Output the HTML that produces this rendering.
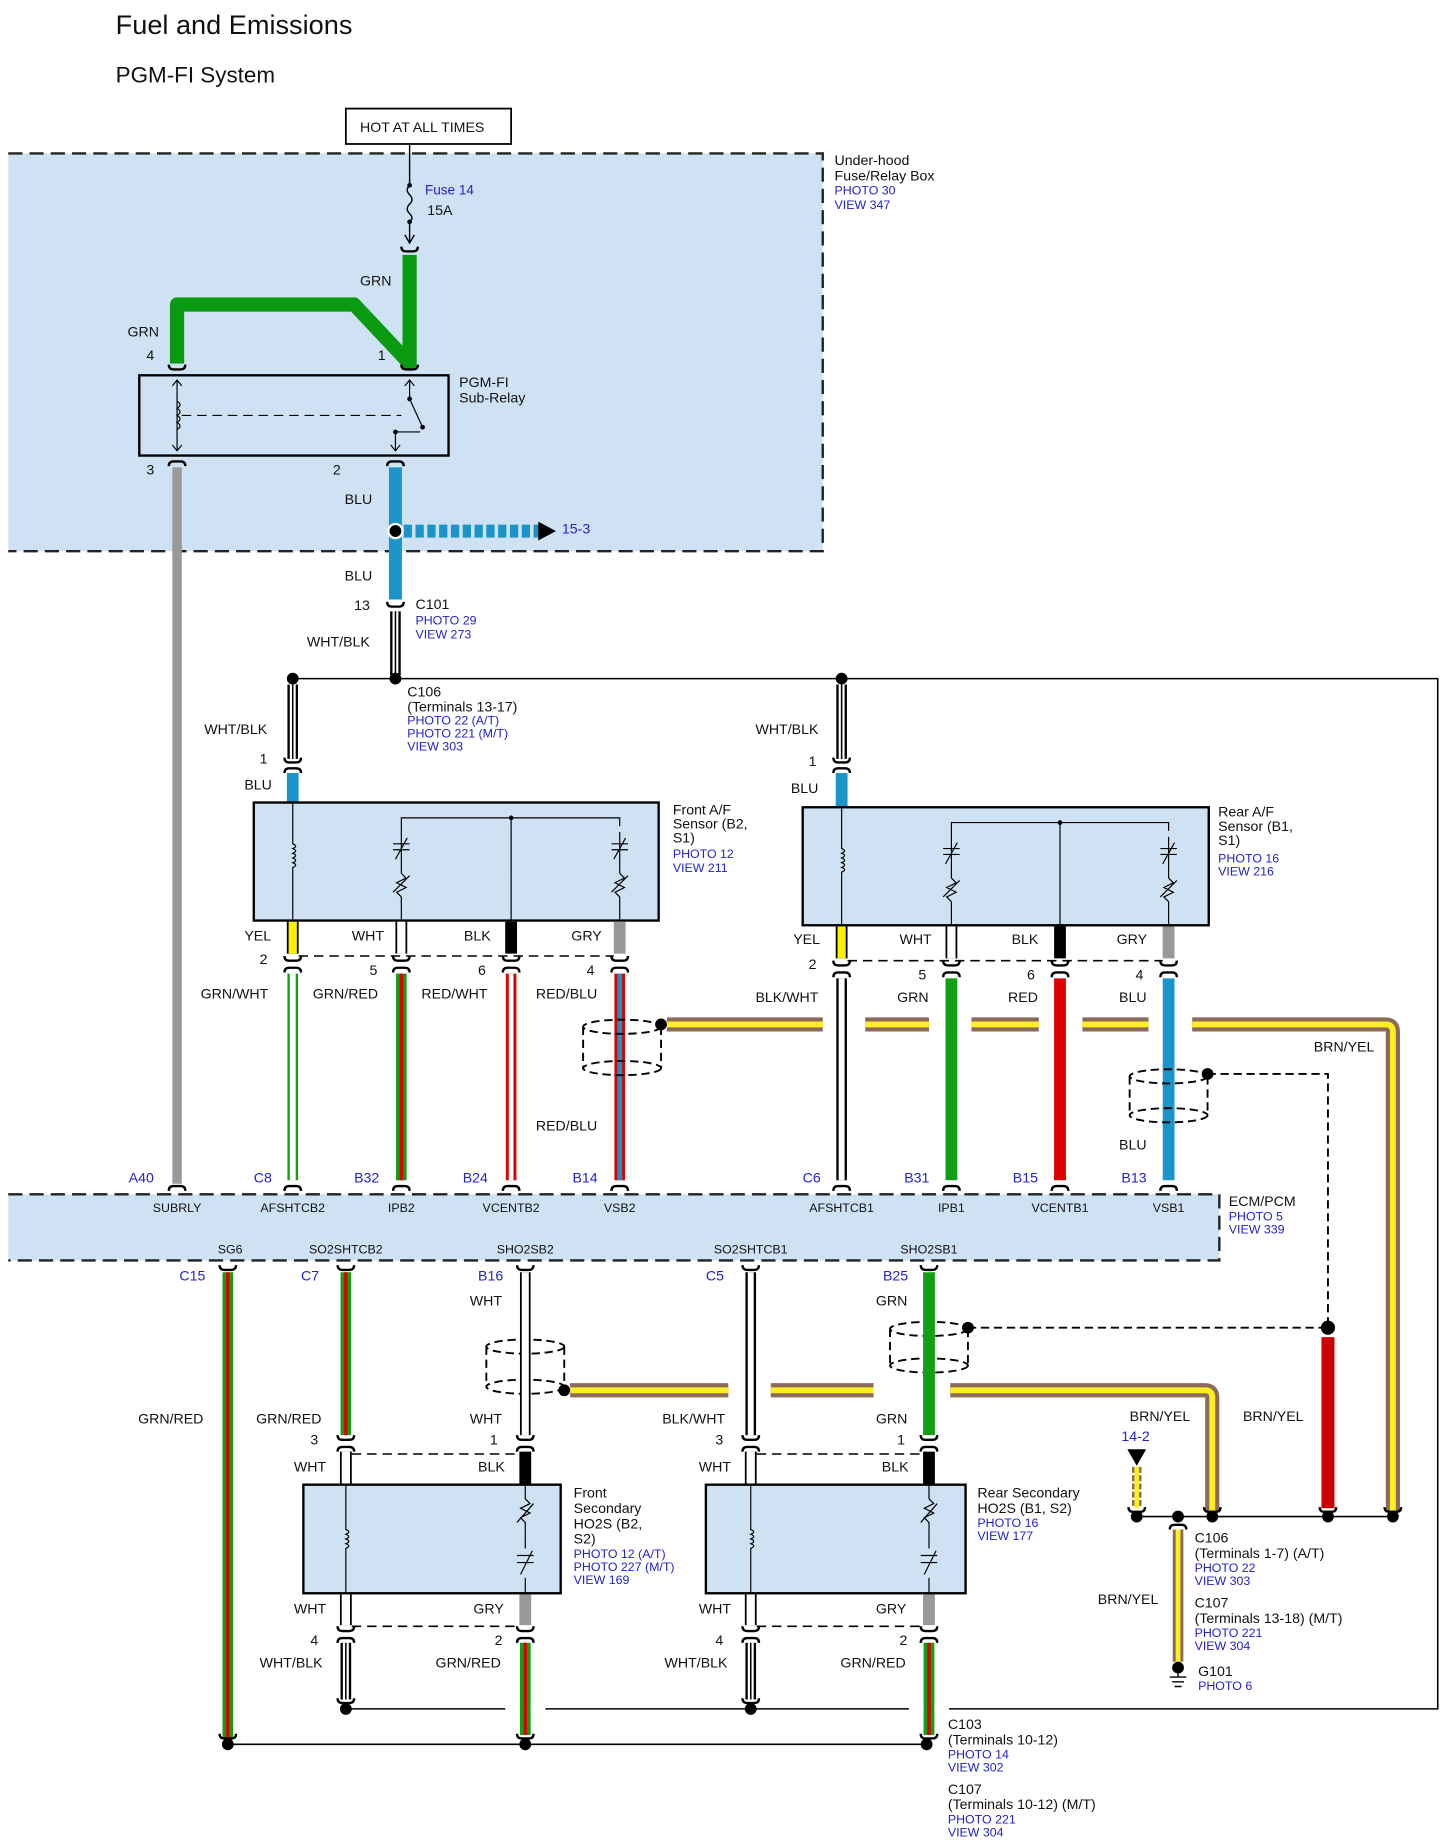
<!DOCTYPE html>
<html><head><meta charset="utf-8"><style>
html,body{margin:0;padding:0;background:#fff}
svg{display:block}
text{font-family:"Liberation Sans",Arial,sans-serif;font-size:12px;fill:#111}
.b{fill:#2222cc;font-size:10.5px}
.pn{fill:#2222cc;font-size:12px}
.s{font-size:10.5px}
</style></head><body>
<svg width="1446" height="1847" viewBox="0 0 1225 1565" preserveAspectRatio="none" xmlns="http://www.w3.org/2000/svg">
<defs>
<path id="tu" d="M-7,3 Q-7,-1 -3,-1 H3 Q7,-1 7,3" fill="none" stroke="#000" stroke-width="2"/>
<path id="td" d="M-7,-3 Q-7,1 -3,1 H3 Q7,1 7,-3" fill="none" stroke="#000" stroke-width="2"/>
</defs>
<text x="98" y="29" style="font-size:23px">Fuel and Emissions</text>
<text x="98" y="70" style="font-size:19px">PGM-FI System</text>

<!-- fuse box -->
<rect x="7" y="130" width="690" height="337" fill="#cfe2f3"/>
<path d="M7,130 H697 V467 H7" fill="none" stroke="#222" stroke-width="2" stroke-dasharray="12,6"/>
<rect x="293" y="92" width="140" height="30" fill="#fff" stroke="#000" stroke-width="1.5"/>
<text x="305" y="112">HOT AT ALL TIMES</text>
<text x="707" y="140">Under-hood</text><text x="707" y="153">Fuse/Relay Box</text>
<text x="707" y="165" class="b">PHOTO 30</text><text x="707" y="177" class="b">VIEW 347</text>
<path d="M347,122 V157 M347,188 V205" stroke="#000" stroke-width="1.2" fill="none"/>
<circle cx="347" cy="157" r="2"/><circle cx="347" cy="188" r="2"/>
<path d="M347,157 q-4,4 0,8 q4,4 0,8 q-4,4 0,8 q4,4 0,7" stroke="#000" fill="none" stroke-width="1.2"/>
<path d="M343,199 L347,206 L351,199" stroke="#000" fill="none" stroke-width="1.2"/>
<text x="360" y="165" class="pn" style="font-size:11.5px">Fuse 14</text><text x="362" y="182">15A</text>
<use href="#td" x="347" y="212"/>
<path d="M347,216 V308 L300,258 H150 V308" stroke="#0a9a12" stroke-width="12" fill="none" stroke-linejoin="round"/>
<text x="305" y="242">GRN</text><text x="108" y="285">GRN</text>
<text x="124" y="305">4</text><text x="320" y="305">1</text>
<use href="#td" x="150" y="312"/><use href="#td" x="347" y="312"/>
<rect x="118" y="318" width="262" height="68" fill="none" stroke="#000" stroke-width="2"/>
<text x="389" y="328">PGM-FI</text><text x="389" y="341">Sub-Relay</text>
<path d="M150,322 V382 M146,327 L150,322 L154,327 M146,377 L150,382 L154,377" stroke="#000" fill="none" stroke-width="1"/>
<path d="M150,340 q5,3 0,6 q5,3 0,6 q5,3 0,6 q5,3 0,6" stroke="#000" fill="none"/>
<path d="M154,352 H340" stroke="#000" stroke-dasharray="8,5"/>
<path d="M347,322 V338 L358,362 M335,366 V382 M343,327 L347,322 L351,327 M331,377 L335,382 L339,377 M335,366 H356" stroke="#000" fill="none" stroke-width="1"/>
<circle cx="347" cy="338" r="2"/><circle cx="358" cy="362" r="2"/><circle cx="335" cy="366" r="2"/>
<use href="#tu" x="150" y="392"/><use href="#tu" x="335" y="392"/>
<text x="124" y="402">3</text><text x="282" y="402">2</text>
<path d="M150,396 V1003" stroke="#999" stroke-width="8"/>
<path d="M335,396 V508" stroke="#1b95c9" stroke-width="11"/>
<text x="292" y="427">BLU</text><text x="292" y="492">BLU</text>
<path d="M342,450 H458" stroke="#1b95c9" stroke-width="11" stroke-dasharray="7,3"/>
<path d="M456,442 L471,450 L456,458Z"/>
<circle cx="335" cy="450" r="6" fill="#000" stroke="#fff" stroke-width="2"/>
<text x="476" y="452" class="pn">15-3</text>
<use href="#td" x="335" y="513"/>
<text x="300" y="517">13</text><text x="352" y="516">C101</text>
<text x="352" y="529" class="b">PHOTO 29</text><text x="352" y="541" class="b">VIEW 273</text>
<text x="260" y="548">WHT/BLK</text>
<g stroke="#000"><path d="M335,518 V572" stroke-width="9"/><path d="M335,518 V572" stroke="#fff" stroke-width="5"/><path d="M335,518 V572" stroke-width="1.3"/></g>
<path d="M248,575 H1218 V1448 H293" stroke="#000" stroke-width="1.3" fill="none"/>
<path d="M193,1478 H785" stroke="#000" stroke-width="1.3"/>
<circle cx="248" cy="575" r="5"/><circle cx="335" cy="575" r="5"/><circle cx="713" cy="575" r="5"/>
<text x="345" y="590">C106</text><text x="345" y="603">(Terminals 13-17)</text>
<text x="345" y="614" class="b">PHOTO 22 (A/T)</text><text x="345" y="625" class="b">PHOTO 221 (M/T)</text><text x="345" y="636" class="b">VIEW 303</text>

<!-- WHT/BLK drops -->
<g stroke="#000">
<path d="M248,580 V643 M713,580 V643" stroke-width="9"/><path d="M248,580 V643 M713,580 V643" stroke="#fff" stroke-width="5"/><path d="M248,580 V643 M713,580 V643" stroke-width="1.3"/>
</g>
<use href="#td" x="248" y="645"/><use href="#td" x="713" y="645"/>
<use href="#tu" x="248" y="652"/><use href="#tu" x="713" y="652"/>
<text x="173" y="622">WHT/BLK</text><text x="220" y="647">1</text><text x="207" y="669">BLU</text>
<text x="640" y="622">WHT/BLK</text><text x="685" y="649">1</text><text x="670" y="672">BLU</text>
<path d="M248,655 V680 M713,655 V684" stroke="#1b95c9" stroke-width="10"/>

<!-- front A/F -->
<rect x="215" y="680" width="343" height="100" fill="#cfe2f3" stroke="#000" stroke-width="2"/>
<text x="570" y="690">Front A/F</text><text x="570" y="702">Sensor (B2,</text><text x="570" y="714">S1)</text>
<text x="570" y="727" class="b">PHOTO 12</text><text x="570" y="739" class="b">VIEW 211</text>
<g stroke="#000" fill="none" stroke-width="1">
<path d="M248,680 V715 q5,2 0,4 q5,2 0,4 q5,2 0,4 q5,2 0,4 q5,2 0,4 V780"/>
<path d="M340,780 V760 M340,740 V693 H525 V700 M433,693 V780 M525,780 V760 M525,740 V705"/>
<path d="M340,740 l4,4 -8,4 8,4 -8,4 4,4 M333,756 l14,-14 M525,740 l4,4 -8,4 8,4 -8,4 4,4 M518,756 l14,-14"/>
<path d="M333,715 h14 M333,720 h14 M335,728 l10,-18 M518,715 h14 M518,720 h14 M520,728 l10,-18"/>
</g>
<circle cx="433" cy="693" r="2"/>
<!-- rear A/F -->
<rect x="680" y="684" width="344" height="100" fill="#cfe2f3" stroke="#000" stroke-width="2"/>
<text x="1032" y="692">Rear A/F</text><text x="1032" y="704">Sensor (B1,</text><text x="1032" y="716">S1)</text>
<text x="1032" y="731" class="b">PHOTO 16</text><text x="1032" y="742" class="b">VIEW 216</text>
<g stroke="#000" fill="none" stroke-width="1">
<path d="M713,684 V719 q5,2 0,4 q5,2 0,4 q5,2 0,4 q5,2 0,4 q5,2 0,4 V784"/>
<path d="M806,784 V764 M806,744 V697 H990 V704 M898,697 V784 M990,784 V764 M990,744 V709"/>
<path d="M806,744 l4,4 -8,4 8,4 -8,4 4,4 M799,760 l14,-14 M990,744 l4,4 -8,4 8,4 -8,4 4,4 M983,760 l14,-14"/>
<path d="M799,719 h14 M799,724 h14 M801,732 l10,-18 M983,719 h14 M983,724 h14 M985,732 l10,-18"/>
</g>
<circle cx="898" cy="697" r="2"/>

<!-- sensor output stubs -->
<path d="M248,781 V808" stroke="#000" stroke-width="10"/><path d="M248,781 V808" stroke="#ffee00" stroke-width="7"/>
<path d="M340,781 V808" stroke="#000" stroke-width="10"/><path d="M340,781 V808" stroke="#fff" stroke-width="7"/>
<path d="M433,781 V808" stroke="#000" stroke-width="10"/>
<path d="M525,781 V808" stroke="#999" stroke-width="10"/>
<path d="M713,785 V812" stroke="#000" stroke-width="10"/><path d="M713,785 V812" stroke="#ffee00" stroke-width="7"/>
<path d="M806,785 V812" stroke="#000" stroke-width="10"/><path d="M806,785 V812" stroke="#fff" stroke-width="7"/>
<path d="M898,785 V812" stroke="#000" stroke-width="10"/>
<path d="M990,785 V812" stroke="#999" stroke-width="10"/>
<path d="M253,810 H520 M718,814 H985" stroke="#000" stroke-width="1.3" stroke-dasharray="8,5"/>
<g>
<use href="#td" x="248" y="813"/><use href="#td" x="340" y="813"/><use href="#td" x="433" y="813"/><use href="#td" x="525" y="813"/>
<use href="#tu" x="248" y="821"/><use href="#tu" x="340" y="821"/><use href="#tu" x="433" y="821"/><use href="#tu" x="525" y="821"/>
<use href="#td" x="713" y="817"/><use href="#td" x="806" y="817"/><use href="#td" x="898" y="817"/><use href="#td" x="990" y="817"/>
<use href="#tu" x="713" y="825"/><use href="#tu" x="806" y="825"/><use href="#tu" x="898" y="825"/><use href="#tu" x="990" y="825"/>
</g>
<text x="207" y="797">YEL</text><text x="298" y="797">WHT</text><text x="393" y="797">BLK</text><text x="484" y="797">GRY</text>
<text x="220" y="817">2</text><text x="313" y="826">5</text><text x="405" y="826">6</text><text x="497" y="826">4</text>
<text x="672" y="800">YEL</text><text x="762" y="800">WHT</text><text x="857" y="800">BLK</text><text x="946" y="800">GRY</text>
<text x="685" y="821">2</text><text x="778" y="830">5</text><text x="870" y="830">6</text><text x="962" y="830">4</text>
<text x="170" y="846">GRN/WHT</text><text x="265" y="846">GRN/RED</text><text x="357" y="846">RED/WHT</text><text x="454" y="846">RED/BLU</text>
<text x="640" y="849">BLK/WHT</text><text x="760" y="849">GRN</text><text x="854" y="849">RED</text><text x="948" y="849">BLU</text>
<text x="454" y="958">RED/BLU</text><text x="948" y="974">BLU</text><text x="1113" y="891">BRN/YEL</text>

<!-- upper wires to ECM -->
<g>
<path d="M248,825 V1000" stroke="#12a012" stroke-width="9"/><path d="M248,825 V1000" stroke="#fff" stroke-width="5"/>
<path d="M340,825 V1000" stroke="#12a012" stroke-width="9"/><path d="M340,825 V1000" stroke="#d00" stroke-width="3"/>
<path d="M433,825 V1000" stroke="#d00" stroke-width="9"/><path d="M433,825 V1000" stroke="#fff" stroke-width="4"/>
<path d="M525,825 V1000" stroke="#d00" stroke-width="9"/><path d="M525,825 V1000" stroke="#1b95c9" stroke-width="4"/>
<path d="M713,829 V1000" stroke="#000" stroke-width="9"/><path d="M713,829 V1000" stroke="#fff" stroke-width="5"/>
<path d="M806,829 V1000" stroke="#12a012" stroke-width="10"/>
<path d="M898,829 V1000" stroke="#d00" stroke-width="10"/>
<path d="M990,829 V1000" stroke="#1b95c9" stroke-width="10"/>
</g>
<!-- BRN/YEL shield drain top -->
<g fill="none">
<path d="M565,868 H697 M733,868 H787 M823,868 H880 M917,868 H973 M1010,868 H1174 Q1180,868 1180,874 V1280" stroke="#8c6a5a" stroke-width="12"/>
<path d="M565,868 H697 M733,868 H787 M823,868 H880 M917,868 H973 M1010,868 H1174 Q1180,868 1180,874 V1280" stroke="#ffee22" stroke-width="5"/>
</g>
<!-- shields -->
<g fill="none" stroke="#000" stroke-width="1.6" stroke-dasharray="7,4">
<ellipse cx="527" cy="870" rx="33" ry="6"/><ellipse cx="527" cy="905" rx="33" ry="6"/><path d="M494,870 V905 M560,870 V905"/>
<ellipse cx="990" cy="912" rx="33" ry="6"/><ellipse cx="990" cy="945" rx="33" ry="6"/><path d="M957,912 V945 M1023,912 V945"/>
<path d="M1023,910 H1125 V1120" />
<ellipse cx="787" cy="1126" rx="33" ry="6"/><ellipse cx="787" cy="1157" rx="33" ry="6"/><path d="M754,1126 V1157 M820,1126 V1157"/>
<path d="M820,1125 H1120"/>
<ellipse cx="445" cy="1141" rx="33" ry="6"/><ellipse cx="445" cy="1175" rx="33" ry="6"/><path d="M412,1141 V1175 M478,1141 V1175"/>
</g>
<circle cx="560" cy="868" r="5"/><circle cx="1023" cy="910" r="5"/><circle cx="820" cy="1125" r="5"/><circle cx="1125" cy="1125" r="6"/><circle cx="478" cy="1178" r="5"/>

<!-- ECM -->
<g>
<use href="#tu" x="150" y="1006"/><use href="#tu" x="248" y="1006"/><use href="#tu" x="340" y="1006"/><use href="#tu" x="433" y="1006"/><use href="#tu" x="525" y="1006"/>
<use href="#tu" x="713" y="1006"/><use href="#tu" x="806" y="1006"/><use href="#tu" x="898" y="1006"/><use href="#tu" x="990" y="1006"/>
</g>
<rect x="7" y="1012" width="1026" height="56" fill="#cfe2f3"/>
<path d="M7,1012 H1033 V1068 H7" fill="none" stroke="#222" stroke-width="2" stroke-dasharray="12,6"/>
<text x="109" y="1002" class="pn">A40</text><text x="215" y="1002" class="pn">C8</text><text x="300" y="1002" class="pn">B32</text><text x="392" y="1002" class="pn">B24</text><text x="485" y="1002" class="pn">B14</text>
<text x="680" y="1002" class="pn">C6</text><text x="766" y="1002" class="pn">B31</text><text x="858" y="1002" class="pn">B15</text><text x="950" y="1002" class="pn">B13</text>
<g class="s" text-anchor="middle">
<text x="150" y="1027" class="s">SUBRLY</text><text x="248" y="1027" class="s">AFSHTCB2</text><text x="340" y="1027" class="s">IPB2</text><text x="433" y="1027" class="s">VCENTB2</text><text x="525" y="1027" class="s">VSB2</text>
<text x="713" y="1027" class="s">AFSHTCB1</text><text x="806" y="1027" class="s">IPB1</text><text x="898" y="1027" class="s">VCENTB1</text><text x="990" y="1027" class="s">VSB1</text>
<text x="195" y="1062" class="s">SG6</text><text x="293" y="1062" class="s">SO2SHTCB2</text><text x="445" y="1062" class="s">SHO2SB2</text><text x="636" y="1062" class="s">SO2SHTCB1</text><text x="787" y="1062" class="s">SHO2SB1</text>
</g>
<text x="1041" y="1022">ECM/PCM</text><text x="1041" y="1034" class="b">PHOTO 5</text><text x="1041" y="1045" class="b">VIEW 339</text>
<text x="152" y="1085" class="pn">C15</text><text x="255" y="1085" class="pn">C7</text><text x="405" y="1085" class="pn">B16</text><text x="598" y="1085" class="pn">C5</text><text x="748" y="1085" class="pn">B25</text>
<g><use href="#td" x="193" y="1075"/><use href="#td" x="293" y="1075"/><use href="#td" x="445" y="1075"/><use href="#td" x="636" y="1075"/><use href="#td" x="787" y="1075"/></g>

<!-- lower wires -->
<path d="M193,1078 V1473" stroke="#12a012" stroke-width="9"/><path d="M193,1078 V1473" stroke="#d00" stroke-width="3"/>
<path d="M293,1078 V1216" stroke="#12a012" stroke-width="9"/><path d="M293,1078 V1216" stroke="#d00" stroke-width="3"/>
<path d="M445,1078 V1216" stroke="#000" stroke-width="9"/><path d="M445,1078 V1216" stroke="#fff" stroke-width="6"/>
<path d="M636,1078 V1216" stroke="#000" stroke-width="9"/><path d="M636,1078 V1216" stroke="#fff" stroke-width="5"/>
<path d="M787,1078 V1216" stroke="#12a012" stroke-width="10"/>
<text x="117" y="1206">GRN/RED</text><text x="217" y="1206">GRN/RED</text><text x="398" y="1106">WHT</text><text x="398" y="1206">WHT</text>
<text x="561" y="1206">BLK/WHT</text><text x="742" y="1106">GRN</text><text x="742" y="1206">GRN</text>
<g fill="none">
<path d="M483,1178 H617 M653,1178 H740 M805,1178 H1021 Q1027,1178 1027,1184 V1280" stroke="#8c6a5a" stroke-width="12"/>
<path d="M483,1178 H617 M653,1178 H740 M805,1178 H1021 Q1027,1178 1027,1184 V1280" stroke="#ffee22" stroke-width="5"/>
</g>
<path d="M1125,1133 V1278" stroke="#c00" stroke-width="11"/>
<text x="957" y="1204">BRN/YEL</text><text x="1053" y="1204">BRN/YEL</text>
<text x="950" y="1221" class="pn">14-2</text>
<path d="M955,1228 L971,1228 L963,1242Z"/>
<path d="M963,1243 V1278" stroke="#8c6a5a" stroke-width="8" stroke-dasharray="5,2"/><path d="M963,1243 V1278" stroke="#ffee22" stroke-width="4"/>
<g><use href="#td" x="963" y="1280"/><use href="#td" x="1027" y="1280"/><use href="#td" x="1125" y="1280"/><use href="#td" x="1180" y="1280"/><use href="#tu" x="998" y="1293"/></g>
<path d="M963,1285 H1180" stroke="#000" stroke-width="1.3"/>
<circle cx="963" cy="1285" r="5"/><circle cx="998" cy="1285" r="5"/><circle cx="1027" cy="1285" r="5"/><circle cx="1125" cy="1285" r="5"/><circle cx="1180" cy="1285" r="5"/>
<path d="M998,1296 V1408" stroke="#8c6a5a" stroke-width="9"/><path d="M998,1296 V1408" stroke="#ffee22" stroke-width="4"/>
<circle cx="998" cy="1413" r="5"/><path d="M998,1413 V1421 M991,1421 H1005 M993,1425 H1003 M995,1429 H1001" stroke="#000" stroke-width="1.2"/>
<text x="930" y="1359">BRN/YEL</text>
<text x="1012" y="1307">C106</text><text x="1012" y="1320">(Terminals 1-7) (A/T)</text><text x="1012" y="1332" class="b">PHOTO 22</text><text x="1012" y="1343" class="b">VIEW 303</text>
<text x="1012" y="1362">C107</text><text x="1012" y="1375">(Terminals 13-18) (M/T)</text><text x="1012" y="1387" class="b">PHOTO 221</text><text x="1012" y="1398" class="b">VIEW 304</text>
<text x="1015" y="1420">G101</text><text x="1015" y="1432" class="b">PHOTO 6</text>

<!-- HO2S connectors top -->
<g><use href="#td" x="293" y="1219"/><use href="#td" x="445" y="1219"/><use href="#td" x="636" y="1219"/><use href="#td" x="787" y="1219"/>
<use href="#tu" x="293" y="1227"/><use href="#tu" x="445" y="1227"/><use href="#tu" x="636" y="1227"/><use href="#tu" x="787" y="1227"/></g>
<text x="263" y="1224">3</text><text x="415" y="1224">1</text><text x="606" y="1224">3</text><text x="760" y="1224">1</text>
<path d="M298,1232 H440 M641,1232 H782" stroke="#000" stroke-width="1.3" stroke-dasharray="8,5"/>
<path d="M293,1230 V1258 M636,1230 V1258" stroke="#000" stroke-width="10"/><path d="M293,1230 V1258 M636,1230 V1258" stroke="#fff" stroke-width="7"/>
<path d="M445,1230 V1258 M787,1230 V1258" stroke="#000" stroke-width="10"/>
<text x="249" y="1247">WHT</text><text x="405" y="1247">BLK</text><text x="592" y="1247">WHT</text><text x="747" y="1247">BLK</text>
<rect x="257" y="1258" width="218" height="92" fill="#cfe2f3" stroke="#000" stroke-width="2"/>
<rect x="598" y="1258" width="220" height="92" fill="#cfe2f3" stroke="#000" stroke-width="2"/>
<g stroke="#000" fill="none" stroke-width="1">
<path d="M293,1258 V1296 q5,2 0,4 q5,2 0,4 q5,2 0,4 q5,2 0,4 V1350 M445,1258 V1270 M445,1295 V1312 M445,1337 V1350"/>
<path d="M445,1270 l4,4 -8,4 8,4 -8,4 4,4 V1295 M438,1290 l14,-16 M438,1318 h14 M438,1324 h14 M441,1334 l10,-20"/>
<path d="M636,1258 V1296 q5,2 0,4 q5,2 0,4 q5,2 0,4 q5,2 0,4 V1350 M787,1258 V1270 M787,1295 V1312 M787,1337 V1350"/>
<path d="M787,1270 l4,4 -8,4 8,4 -8,4 4,4 V1295 M780,1290 l14,-16 M780,1318 h14 M780,1324 h14 M783,1334 l10,-20"/>
</g>
<text x="486" y="1269">Front</text><text x="486" y="1282">Secondary</text><text x="486" y="1295">HO2S (B2,</text><text x="486" y="1308">S2)</text>
<text x="486" y="1320" class="b">PHOTO 12 (A/T)</text><text x="486" y="1331" class="b">PHOTO 227 (M/T)</text><text x="486" y="1342" class="b">VIEW 169</text>
<text x="828" y="1269">Rear Secondary</text><text x="828" y="1282">HO2S (B1, S2)</text><text x="828" y="1294" class="b">PHOTO 16</text><text x="828" y="1305" class="b">VIEW 177</text>
<path d="M293,1351 V1377 M636,1351 V1377" stroke="#000" stroke-width="10"/><path d="M293,1351 V1377 M636,1351 V1377" stroke="#fff" stroke-width="7"/>
<path d="M445,1351 V1377 M787,1351 V1377" stroke="#999" stroke-width="10"/>
<path d="M298,1378 H440 M641,1378 H782" stroke="#000" stroke-width="1.3" stroke-dasharray="8,5"/>
<text x="249" y="1367">WHT</text><text x="401" y="1367">GRY</text><text x="592" y="1367">WHT</text><text x="742" y="1367">GRY</text>
<g><use href="#td" x="293" y="1381"/><use href="#td" x="445" y="1381"/><use href="#td" x="636" y="1381"/><use href="#td" x="787" y="1381"/>
<use href="#tu" x="293" y="1389"/><use href="#tu" x="445" y="1389"/><use href="#tu" x="636" y="1389"/><use href="#tu" x="787" y="1389"/>
<use href="#td" x="293" y="1442"/><use href="#td" x="636" y="1442"/><use href="#td" x="445" y="1472"/><use href="#td" x="787" y="1472"/><use href="#td" x="193" y="1472"/></g>
<text x="263" y="1394">4</text><text x="419" y="1394">2</text><text x="606" y="1394">4</text><text x="762" y="1394">2</text>
<text x="220" y="1413">WHT/BLK</text><text x="369" y="1413">GRN/RED</text><text x="563" y="1413">WHT/BLK</text><text x="712" y="1413">GRN/RED</text>
<g stroke="#000"><path d="M293,1392 V1440 M636,1392 V1440" stroke-width="9"/><path d="M293,1392 V1440 M636,1392 V1440" stroke="#fff" stroke-width="5"/><path d="M293,1392 V1440 M636,1392 V1440" stroke-width="1.3"/></g>
<path d="M445,1392 V1470 M787,1392 V1470" stroke="#12a012" stroke-width="9"/><path d="M445,1392 V1470 M787,1392 V1470" stroke="#d00" stroke-width="3"/>
<path d="M428,1448 H462 M770,1448 H804" stroke="#fff" stroke-width="3"/>
<path d="M445,1392 V1470 M787,1392 V1470" stroke="#12a012" stroke-width="9"/><path d="M445,1392 V1470 M787,1392 V1470" stroke="#d00" stroke-width="3"/>
<circle cx="293" cy="1448" r="5"/><circle cx="636" cy="1448" r="5"/><circle cx="193" cy="1478" r="5"/><circle cx="445" cy="1478" r="5"/><circle cx="785" cy="1478" r="5"/>
<text x="803" y="1465">C103</text><text x="803" y="1478">(Terminals 10-12)</text><text x="803" y="1490" class="b">PHOTO 14</text><text x="803" y="1501" class="b">VIEW 302</text>
<text x="803" y="1520">C107</text><text x="803" y="1533">(Terminals 10-12) (M/T)</text><text x="803" y="1545" class="b">PHOTO 221</text><text x="803" y="1556" class="b">VIEW 304</text>
</svg>
</body></html>
